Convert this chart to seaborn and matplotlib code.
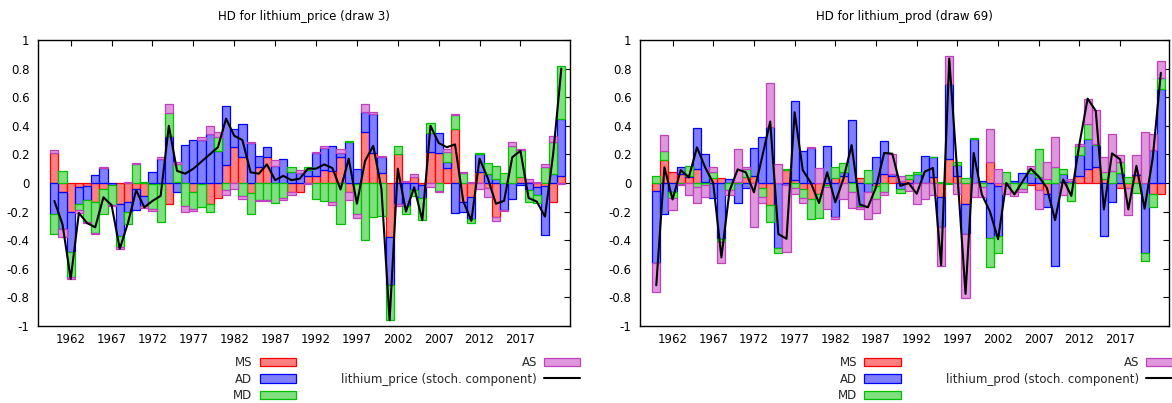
import numpy as np
import matplotlib
matplotlib.use("Agg")
import matplotlib.pyplot as plt
import seaborn as sns
from matplotlib.patches import Patch
from matplotlib.lines import Line2D

# ---------------------------------------------------------------- data
years = np.arange(1960, 2023)

# Historical decomposition of lithium_price: contribution of each shock
price_ms = [0.21, -0.06, -0.205, -0.025, -0.02, -0.13, -0.04, 0.0, -0.15, -0.13,
            -0.04, -0.09, -0.01, -0.01, -0.15, 0.01, 0.0, -0.065, -0.01, -0.145,
            -0.105, 0.125, 0.25, 0.18, -0.07, 0.11, 0.185, 0.0, 0.0, -0.065,
            -0.06, 0.05, 0.05, 0.09, 0.085, 0.18, -0.06, -0.01, 0.355, 0.21,
            0.07, -0.375, 0.20, 0.005, 0.04, -0.015, 0.215, 0.207, 0.105, 0.375,
            -0.135, -0.10, 0.08, -0.035, -0.237, 0.0, 0.0, 0.04, 0.01, -0.025,
            -0.02, -0.13, 0.05]
price_ad = [-0.22, -0.26, -0.275, -0.12, -0.10, 0.055, 0.105, -0.015, -0.22, -0.07,
            -0.15, -0.07, 0.075, 0.165, 0.33, -0.06, 0.265, 0.30, 0.30, 0.34,
            0.225, 0.41, 0.125, 0.235, 0.28, 0.08, 0.07, 0.12, 0.17, 0.08,
            0.07, 0.04, 0.16, 0.155, 0.175, 0.03, 0.29, 0.10, 0.14, 0.27,
            0.11, -0.34, -0.145, -0.16, -0.05, -0.09, 0.135, 0.14, 0.04, -0.21,
            -0.065, -0.15, 0.12, 0.065, 0.025, -0.19, -0.11, -0.015, -0.05, -0.06,
            -0.345, 0.065, 0.40]
price_md = [-0.135, 0.085, -0.175, -0.045, -0.15, -0.22, -0.175, -0.14, -0.08, -0.09,
            0.135, 0.005, -0.17, -0.265, 0.16, 0.12, -0.16, -0.115, -0.16, -0.055,
            0.10, -0.05, 0.0, -0.09, -0.145, -0.12, -0.12, -0.14, -0.105, 0.03,
            0.0, 0.025, -0.115, -0.125, -0.13, -0.29, 0.005, -0.21, -0.40, -0.24,
            -0.23, -0.245, 0.06, -0.06, -0.04, -0.155, 0.07, -0.058, 0.07, 0.10,
            0.07, -0.027, 0.012, 0.075, 0.095, 0.067, 0.26, 0.19, -0.085, -0.055,
            0.11, 0.225, 0.37]
price_as = [0.02, -0.06, -0.015, -0.02, -0.01, -0.01, 0.01, -0.005, -0.01, 0.005,
            0.005, -0.015, -0.015, 0.02, 0.06, 0.015, -0.04, -0.015, 0.02, 0.06,
            0.03, -0.035, -0.045, -0.025, 0.01, -0.005, -0.005, 0.04, -0.015, -0.02,
            0.02, -0.01, 0.005, 0.015, -0.025, 0.03, -0.06, -0.025, 0.06, 0.015,
            0.01, 0.0, -0.015, 0.01, 0.02, 0.0, -0.025, -0.007, 0.025, 0.01,
            0.01, 0.01, -0.045, -0.065, -0.028, -0.005, 0.03, 0.01, 0.02, 0.01,
            0.02, 0.04, -0.01]
price_stoch = [-0.125, -0.29, -0.67, -0.21, -0.28, -0.31, -0.10, -0.155, -0.46, -0.28,
               -0.05, -0.17, -0.125, -0.09, 0.40, 0.085, 0.065, 0.10, 0.15, 0.20,
               0.25, 0.45, 0.33, 0.30, 0.075, 0.065, 0.13, 0.02, 0.05, 0.02,
               0.03, 0.10, 0.10, 0.13, 0.105, -0.045, 0.17, -0.145, 0.155, 0.26,
               -0.04, -0.96, 0.10, -0.20, -0.03, -0.26, 0.40, 0.28, 0.25, 0.27,
               -0.125, -0.265, 0.17, 0.035, -0.145, -0.125, 0.18, 0.225, -0.105, -0.13,
               -0.235, 0.20, 0.80]

# Historical decomposition of lithium_prod: contribution of each shock
prod_ms = [-0.058, 0.16, 0.075, 0.065, 0.04, 0.10, 0.01, 0.037, 0.035, 0.0,
           0.0, 0.045, 0.05, -0.035, -0.155, 0.0, 0.09, 0.02, -0.04, -0.115,
           -0.075, -0.015, 0.035, 0.05, 0.01, 0.035, 0.0, -0.02, 0.063, 0.05,
           0.015, 0.03, 0.0, 0.0, 0.04, -0.095, 0.167, 0.05, -0.147, 0.0,
           0.0, 0.145, -0.02, -0.01, 0.0, 0.0, -0.015, -0.05, -0.08, 0.0,
           0.01, 0.0, 0.05, 0.10, 0.11, 0.03, 0.0, -0.035, -0.035, 0.055,
           0.0, -0.08, -0.08]
prod_ad = [-0.50, -0.22, -0.06, 0.045, 0.01, 0.287, 0.19, -0.107, -0.39, 0.03,
           -0.142, -0.035, 0.192, 0.32, 0.39, -0.456, -0.015, 0.555, 0.225, 0.245,
           0.0, 0.26, -0.24, 0.03, 0.43, -0.16, -0.06, 0.18, 0.232, 0.01,
           -0.04, -0.01, 0.06, 0.19, 0.14, -0.21, 0.523, 0.075, -0.211, 0.31,
           0.015, -0.386, -0.35, 0.0, 0.015, 0.067, 0.067, 0.045, -0.085, -0.58,
           0.05, 0.015, 0.145, 0.21, 0.155, -0.37, -0.133, 0.067, 0.0, 0.01,
           -0.49, 0.23, 0.655]
prod_md = [0.047, 0.066, -0.045, -0.005, 0.07, -0.025, -0.015, 0.043, -0.02, -0.05,
           0.005, 0.055, 0.0, -0.065, -0.115, -0.034, 0.005, -0.037, -0.067, -0.138,
           -0.17, -0.01, 0.08, 0.06, -0.065, -0.005, 0.088, -0.09, -0.06, 0.0,
           -0.03, 0.025, 0.02, 0.0, 0.005, 0.01, -0.01, 0.02, 0.033, 0.006,
           -0.03, -0.204, -0.12, 0.074, -0.06, -0.045, 0.03, 0.19, 0.03, 0.11,
           0.04, -0.125, 0.065, 0.10, 0.005, 0.05, 0.086, 0.083, 0.04, -0.07,
           -0.055, -0.085, 0.08]
prod_as = [-0.205, 0.107, -0.085, -0.01, -0.085, -0.115, -0.08, 0.03, -0.15, -0.035,
           0.232, 0.01, -0.305, -0.04, 0.31, 0.133, -0.47, -0.043, -0.03, 0.005,
           0.107, -0.155, -0.01, -0.11, -0.11, -0.02, -0.195, -0.10, -0.025, 0.145,
           0.035, -0.045, -0.15, -0.11, -0.085, -0.275, 0.195, -0.08, -0.447, -0.095,
           -0.07, 0.23, 0.095, -0.065, -0.03, -0.015, 0.02, -0.13, 0.115, 0.21,
           -0.085, 0.015, 0.01, 0.18, 0.24, 0.105, 0.254, 0.045, -0.19, 0.13,
           0.358, 0.11, 0.115]
prod_stoch = [-0.715, 0.11, -0.115, 0.09, 0.04, 0.25, 0.11, 0.0, -0.52, -0.055,
              0.095, 0.075, -0.065, 0.18, 0.43, -0.357, -0.39, 0.495, 0.09, 0.0,
              -0.14, 0.075, -0.135, 0.03, 0.265, -0.15, -0.17, -0.03, 0.21, 0.205,
              -0.02, 0.0, -0.075, 0.08, 0.105, -0.575, 0.87, 0.06, -0.775, 0.21,
              -0.08, -0.20, -0.393, 0.0, -0.08, 0.01, 0.10, 0.045, -0.035, -0.26,
              0.025, -0.09, 0.275, 0.59, 0.505, -0.185, 0.207, 0.165, -0.185, 0.12,
              -0.18, 0.175, 0.77]

shock_names = ["MS", "AD", "MD", "AS"]
x_ticks = [1962, 1967, 1972, 1977, 1982, 1987, 1992, 1997, 2002, 2007, 2012, 2017]
y_ticks = [-1, -0.8, -0.6, -0.4, -0.2, 0, 0.2, 0.4, 0.6, 0.8, 1]

# ---------------------------------------------------------------- style
sns.set_theme(style="white")
plt.rcParams["font.family"] = ["DejaVu Sans"]
plt.rcParams["font.size"] = 8.5

fill_colors = ["#ff8080", "#8080ff", "#80e080", "#e098dc"]
edge_colors = ["#ff0000", "#0000ff", "#00c000", "#c040c0"]

W, H = 1172, 403
fig = plt.figure(figsize=(W / 100, H / 100), dpi=100)
ax_price = fig.add_axes([38 / W, 1 - 326 / H, 531.5 / W, 286 / H])
ax_prod = fig.add_axes([640 / W, 1 - 326 / H, 529 / W, 286 / H])


def draw_panel(ax, comps, stoch, title, series_label, legend_right_px):
    comps = np.asarray(comps, dtype=float)
    pos_base = np.zeros(len(years))
    neg_base = np.zeros(len(years))
    for k in range(len(shock_names)):
        vals = comps[k]
        for sign, base in ((1, pos_base), (-1, neg_base)):
            part = np.where(sign * vals > 0, vals, 0.0)
            mask = part != 0
            ax.bar(years[mask], part[mask], width=1.0, bottom=base[mask],
                   color=fill_colors[k], edgecolor=edge_colors[k],
                   linewidth=0.9, zorder=2)
            base += part
    sns.lineplot(x=years, y=np.asarray(stoch), ax=ax, color="black",
                 linewidth=1.5, zorder=3, legend=False)

    ax.set_xlim(1958, 2023)
    ax.set_ylim(-1, 1)
    ax.set_xticks(x_ticks)
    ax.set_xticklabels([str(t) for t in x_ticks])
    ax.set_yticks(y_ticks)
    ax.set_yticklabels([f"{t:g}" for t in y_ticks])
    ax.tick_params(direction="in", top=True, right=True, length=4, width=0.8,
                   labelsize=8.5, colors="black", pad=5)
    ax.tick_params(axis="y", pad=6)
    for sp in ax.spines.values():
        sp.set_color("black")
        sp.set_linewidth(1.0)
    ax.set_xlabel("")
    ax.set_ylabel("")
    ax.set_title(title, fontsize=8.5, color="black", pad=14.5)

    handles = [Patch(facecolor=fill_colors[k], edgecolor=edge_colors[k], linewidth=0.9)
               for k in range(len(shock_names))]
    handles.append(Line2D([], [], color="black", linewidth=1.5))
    labels = shock_names + [series_label]
    ax.legend(handles, labels, ncol=2, loc="upper right",
              bbox_to_anchor=(legend_right_px / W, 1 - 356 / H),
              bbox_transform=fig.transFigure, frameon=False, markerfirst=False,
              handlelength=3.1, handleheight=0.75, handletextpad=0.6,
              columnspacing=3.8, labelspacing=0.3, borderpad=0,
              borderaxespad=0, fontsize=8.5)


draw_panel(ax_price, [price_ms, price_ad, price_md, price_as], price_stoch,
           "HD for lithium_price (draw 3)", "lithium_price (stoch. component)", 580.5)
draw_panel(ax_prod, [prod_ms, prod_ad, prod_md, prod_as], prod_stoch,
           "HD for lithium_prod (draw 69)", "lithium_prod (stoch. component)", 1182.5)

fig.savefig("out.png", dpi=100)
